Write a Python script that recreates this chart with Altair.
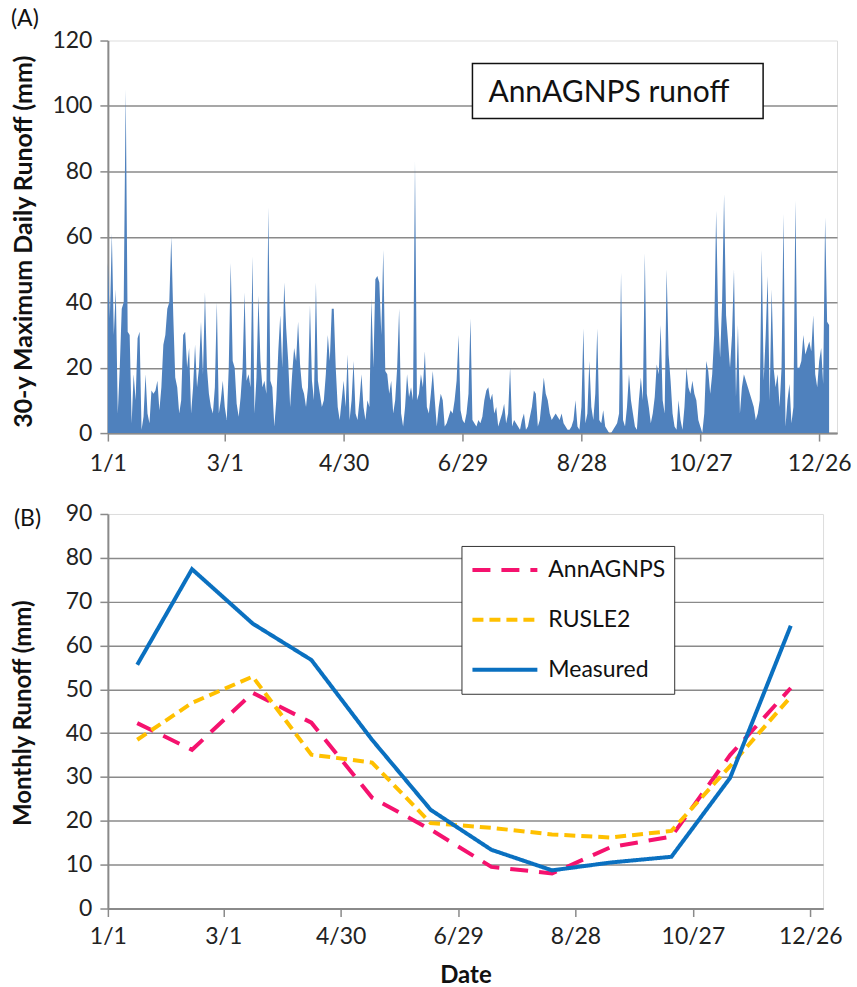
import altair as alt
import pandas as pd

# ---------------- data ----------------
daily_runoff = [
    52, 35, 61, 30, 44, 6, 20, 38, 40, 105,
    31, 30, 3, 18, 10, 29, 31, 1, 5, 18,
    6, 3, 13, 12, 13, 16, 7, 14, 27, 30,
    38, 40, 60, 36, 17, 14, 6, 10, 30, 31,
    20, 26, 6, 14, 27, 14, 20, 34, 18, 43,
    20, 12, 8, 6, 14, 40, 6, 10, 16, 8,
    4, 20, 52, 22, 20, 9, 5, 11, 20, 43,
    16, 18, 14, 54, 6, 17, 42, 22, 14, 16,
    12, 69, 16, 14, 2, 10, 25, 36, 20, 46,
    32, 22, 8, 18, 26, 22, 34, 21, 14, 12,
    8, 14, 39, 16, 10, 46, 16, 12, 8, 10,
    18, 30, 22, 38, 38, 20, 8, 4, 10, 16,
    8, 24, 4, 10, 22, 6, 4, 10, 18, 8,
    4, 10, 8, 41, 20, 47, 48, 46, 30, 56,
    19, 18, 12, 16, 6, 10, 20, 38, 6, 2,
    8, 18, 11, 14, 10, 83, 10, 12, 18, 14,
    25, 8, 6, 12, 19, 10, 2, 8, 12, 10,
    2, 3, 5, 7, 6, 10, 16, 30, 7, 4,
    3, 6, 12, 35, 4, 3, 2, 4, 3, 5,
    10, 13, 14, 10, 12, 6, 8, 2, 4, 6,
    9, 3, 6, 20, 2, 4, 3, 2, 1, 4,
    6, 1, 2, 5, 8, 13, 12, 2, 4, 10,
    17, 12, 10, 6, 4, 5, 6, 5, 4, 6,
    3, 2, 1, 1, 2, 4, 10, 2, 1, 8,
    32, 3, 6, 22, 8, 4, 12, 32, 4, 3,
    7, 2, 1, 0, 0, 1, 2, 3, 6, 49,
    4, 2, 8, 18, 10, 6, 2, 1, 10, 17,
    10, 55, 12, 8, 3, 6, 11, 21, 18, 33,
    10, 6, 50, 24, 16, 6, 2, 1, 10, 4,
    1, 8, 20, 14, 12, 16, 12, 10, 4, 2,
    0, 6, 22, 19, 12, 18, 30, 68, 36, 23,
    40, 73, 36, 28, 20, 30, 50, 11, 33, 6,
    14, 18, 16, 14, 12, 10, 8, 4, 6, 10,
    56, 16, 30, 48, 10, 44, 20, 14, 18, 8,
    20, 67, 2, 10, 15, 3, 8, 71, 20, 20,
    22, 30, 24, 26, 28, 25, 36, 18, 14, 22,
    26, 15, 66, 34, 33,
]

month_days = [15, 43, 74, 104, 135, 165, 196, 227, 257, 288, 318, 349]
annagnps = [42.3, 36.2, 49.2, 42.4, 25.3, 18.0, 9.5, 8.0, 14.0, 16.4, 35.0, 50.3]
rusle2 = [38.5, 46.9, 52.9, 35.1, 33.3, 19.5, 18.4, 16.9, 16.2, 17.7, 32.5, 48.3]
measured = [55.6, 77.4, 65.0, 56.7, 38.5, 22.5, 13.4, 8.7, 10.5, 11.8, 29.8, 64.5]

series_names = ["AnnAGNPS", "RUSLE2", "Measured"]
series_colors = ["#F5126E", "#FFC000", "#0A70C0"]
series_dashes = [[18, 11], [11, 6], [1, 0]]

tick_days = [0, 59, 119, 179, 239, 299, 359]
tick_labels = ["1/1", "3/1", "4/30", "6/29", "8/28", "10/27", "12/26"]

# ---------------- frames ----------------
daily_df = pd.DataFrame({"day": list(range(len(daily_runoff))), "runoff": daily_runoff})
monthly_df = pd.DataFrame({
    "day": month_days * 3,
    "value": annagnps + rusle2 + measured,
    "series": [series_names[0]] * 12 + [series_names[1]] * 12 + [series_names[2]] * 12,
})

FONT = "Lato"
GRID = "#8A8A8A"
label_expr = (
    "[" + ",".join(f"'{l}'" for l in tick_labels) + "]"
    "[indexof([" + ",".join(str(d) for d in tick_days) + "], datum.value)]"
)


def x_axis(pad, **extra):
    return alt.Axis(values=tick_days, labelExpr=label_expr, grid=False,
                    domainColor=GRID, domainWidth=2, tickColor=GRID, tickWidth=1.5,
                    tickSize=8, labelFont=FONT, labelFontSize=23, labelColor="#222",
                    labelPadding=pad, labelFlush=False, labelOverlap=False, **extra)


def y_axis(top, title, title_y, step_vals, title_size):
    return alt.Axis(values=step_vals, title=title, grid=True,
                    gridColor={"condition": {"test": f"datum.value === {top}", "value": "transparent"},
                               "value": GRID},
                    gridWidth=1.5, domainColor=GRID, domainWidth=2,
                    tickColor=GRID, tickWidth=1.5, tickSize=8,
                    labelFont=FONT, labelFontSize=23, labelColor="#222", labelPadding=8,
                    titleFont=FONT, titleFontSize=title_size, titleFontWeight="bold", titleColor="#111",
                    titleX=-84, titleY=title_y, titleBaseline="middle", titleAngle=270)


# ---------------- panel A ----------------
area = alt.Chart(daily_df).mark_area(color="#4F81BD", interpolate="linear").encode(
    x=alt.X("day:Q", scale=alt.Scale(domain=[0, 368], nice=False), title=None, axis=x_axis(11)),
    y=alt.Y("runoff:Q", scale=alt.Scale(domain=[0, 120], nice=False),
            axis=y_axis(120, "30-y Maximum Daily Runoff (mm)", 201,
                        [0, 20, 40, 60, 80, 100, 120], 25)),
)

note_df = pd.DataFrame({"t": ["AnnAGNPS runoff"]})
note_box = alt.Chart(note_df).mark_rect(fill="white", stroke="#111", strokeWidth=1.5).encode(
    x=alt.value(365), x2=alt.value(656), y=alt.value(23), y2=alt.value(78))
note_text = alt.Chart(note_df).mark_text(font=FONT, fontSize=30, align="left", baseline="alphabetic",
                                         color="#111").encode(
    text="t:N", x=alt.value(381), y=alt.value(62))
tag_a = alt.Chart(pd.DataFrame({"t": ["(A)"]})).mark_text(
    font=FONT, fontSize=23, align="left", baseline="middle", color="#111").encode(
    text="t:N", x=alt.value(-97), y=alt.value(-22))

panel_a = alt.layer(area, note_box, note_text, tag_a).properties(width=730, height=393)

# ---------------- panel B ----------------
# legend position is measured from the top-level origin (panel A's plot corner)
legend = alt.Legend(title=None, orient="none", legendX=354, legendY=506,
                    symbolType="stroke", symbolSize=4225, symbolStrokeWidth=4,
                    clipHeight=30, rowPadding=20, padding=9, labelOffset=9,
                    labelFont=FONT, labelFontSize=23, labelColor="#111",
                    strokeColor="#333", fillColor="white", labelLimit=300)

lines = alt.Chart(monthly_df).mark_line(strokeWidth=4).encode(
    x=alt.X("day:Q", scale=alt.Scale(domain=[0, 365.5], nice=False),
            axis=x_axis(9, title="Date", titleFont=FONT, titleFontSize=24, titleFontWeight="bold",
                        titleColor="#111", titleBaseline="middle", titleY=67)),
    y=alt.Y("value:Q", scale=alt.Scale(domain=[0, 90], nice=False),
            axis=y_axis(90, "Monthly Runoff (mm)", 199,
                        [0, 10, 20, 30, 40, 50, 60, 70, 80, 90], 24)),
    color=alt.Color("series:N", scale=alt.Scale(domain=series_names, range=series_colors), legend=legend),
    strokeDash=alt.StrokeDash("series:N", scale=alt.Scale(domain=series_names, range=series_dashes),
                              legend=legend),
)
tag_b = alt.Chart(pd.DataFrame({"t": ["(B)"]})).mark_text(
    font=FONT, fontSize=23, align="left", baseline="middle", color="#111").encode(
    text="t:N", x=alt.value(-94), y=alt.value(5))

panel_b = alt.layer(lines, tag_b).properties(width=716, height=395)

chart = alt.vconcat(panel_a, panel_b, spacing=26).properties(
    padding={"left": 10, "top": 6, "right": 5, "bottom": 0}
).configure_view(stroke="#333", strokeWidth=1.5).configure(background="white")

chart.save("out.html", embed_options={"renderer": "svg", "actions": False})
